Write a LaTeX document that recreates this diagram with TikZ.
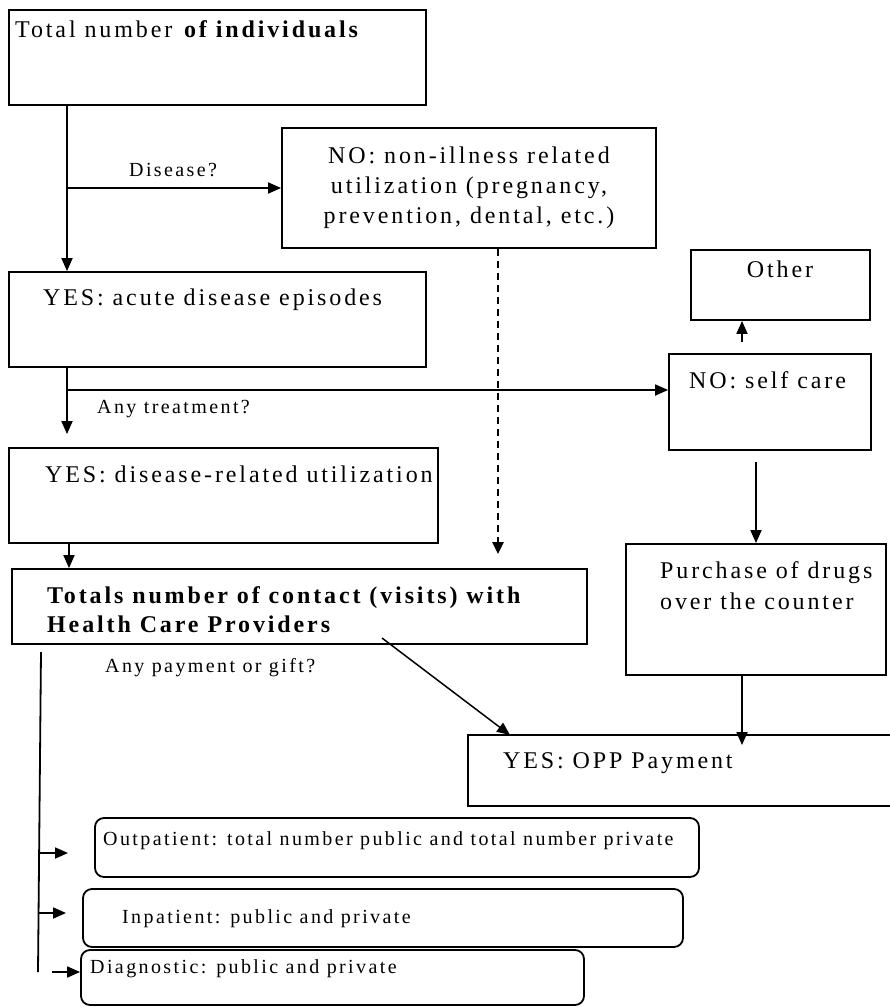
\documentclass[tikz,border=0pt]{standalone}
\usepackage{fontspec}
\setmainfont{Liberation Serif}[LetterSpace=12]
\usetikzlibrary{arrows.meta}
\begin{document}
\begin{tikzpicture}[x=1pt,y=-1pt,
  box/.style={draw, line width=1.8pt, rectangle, inner sep=0pt},
  rbox/.style={box, rounded corners=9pt},
  big/.style={font=\fontsize{24}{30}\selectfont, inner sep=0pt},
  small/.style={font=\fontsize{20}{24}\selectfont, inner sep=0pt},
  conn/.style={line width=1.8pt, -{Triangle[length=13pt,width=11pt]}},
  dconn/.style={line width=2.6pt, dash pattern=on 7pt off 5pt, -{Triangle[length=12pt,width=11pt]}},
  plain/.style={line width=1.8pt}]
\useasboundingbox (0,0) rectangle (890,1007);
\fill[white] (0,0) rectangle (890,1007);

% boxes
\node[box, minimum width=417pt, minimum height=95pt] (b1) at (217.5,57.5) {};
\node[box, minimum width=374pt, minimum height=120pt] (nob) at (469,188) {};
\node[box, minimum width=417pt, minimum height=95pt] (b2) at (217.5,319.5) {};
\node[box, minimum width=179pt, minimum height=70pt] (other) at (780.5,285) {};
\node[box, minimum width=202pt, minimum height=96pt] (self) at (770,402) {};
\node[box, minimum width=429pt, minimum height=95pt] (b3) at (223.5,495.5) {};
\node[box, minimum width=575pt, minimum height=75pt] (b4) at (299.5,606.5) {};
\node[box, minimum width=260pt, minimum height=131pt] (purchase) at (756,609.5) {};
\node[box, minimum width=432pt, minimum height=71pt] (opp) at (684,770.5) {};
\node[rbox, minimum width=604pt, minimum height=59pt] (out) at (397,847.5) {};
\node[rbox, minimum width=600pt, minimum height=58pt] (inp) at (383,918) {};
\node[rbox, minimum width=503pt, minimum height=55pt] (diag) at (332.5,977.5) {};

% texts (base anchor of multi-line text = last line's baseline)
\node[big, anchor=base west] (t1) at (15,37) {Total number \textbf{of individuals}};
\node[big, anchor=base, align=center] (tnob) at (469,223) {NO: non-illness related\\utilization (pregnancy,\\prevention, dental, etc.)};
\node[small, anchor=base west] (tdis) at (129,176) {Disease?};
\node[big, anchor=base west] (t2) at (43,305) {YES: acute disease episodes};
\node[big, anchor=base] (tother) at (780,277) {Other};
\node[big, anchor=base west] (tself) at (689,388) {NO: self care};
\node[small, anchor=base west] (ttreat) at (97,413) {Any treatment?};
\node[big, anchor=base west] (t3) at (45,482) {YES: disease-related utilization};
\node[big, anchor=base west, align=left, font=\fontsize{24}{29}\selectfont] (t4) at (47,632) {\textbf{Totals number of contact (visits) with}\\\textbf{Health Care Providers}};
\node[big, anchor=base west, align=left, font=\fontsize{24}{31}\selectfont] (tpur) at (660,609) {Purchase of drugs\\over the counter};
\node[small, anchor=base west] (tpay) at (105,672) {Any payment or gift?};
\node[big, anchor=base west] (topp) at (503,768) {YES: OPP Payment};
\node[small, anchor=base west] (tout) at (103,845) {Outpatient: total number public and total number private};
\node[small, anchor=base west] (tinp) at (122,923) {Inpatient: public and private};
\node[small, anchor=base west] (tdiag) at (90,973) {Diagnostic: public and private};

% helper coordinates
\coordinate (xa) at (67,0);
\coordinate (xb) at (69,0);
\coordinate (xo) at (742,0);
\coordinate (xs) at (756,0);
\coordinate (xd) at (498,0);
\coordinate (yt) at (0,390);
\coordinate (ds) at (382,638);
\coordinate (de) at (510,735);
\coordinate (vt) at (41,652);
\coordinate (vb) at (38,972);
\coordinate (a1s) at (38.5,853);
\coordinate (a1e) at (68,853);
\coordinate (a2s) at (38.5,913);
\coordinate (a2e) at (66,913);
\coordinate (a3s) at (52,972);

% connectors
\draw[conn] (b1.south -| xa) -- (b2.north -| xa);
\draw[conn] (xa |- nob.west) -- (nob.west);
\draw[conn, shorten >=13pt] (b2.south -| xa) -- (b3.north -| xa);
\draw[conn] (xa |- yt) -- (self.west |- yt);
\draw[conn, shorten <=11pt] (self.north -| xo) -- (other.south -| xo);
\draw[conn, shorten <=11pt] (self.south -| xs) -- (purchase.north -| xs);
\draw[dconn, shorten >=14pt] (nob.south -| xd) -- (b4.north -| xd);
\draw[conn] (b3.south -| xb) -- (b4.north -| xb);
\draw[conn, line width=1.5pt] (ds) -- (de);
\draw[conn, shorten >=-11pt] (purchase.south -| xo) -- (opp.north -| xo);
\draw[plain] (vt) -- (vb);
\draw[conn] (a1s) -- (a1e);
\draw[conn] (a2s) -- (a2e);
\draw[conn] (a3s) -- (diag.west |- a3s);
\end{tikzpicture}
\end{document}
